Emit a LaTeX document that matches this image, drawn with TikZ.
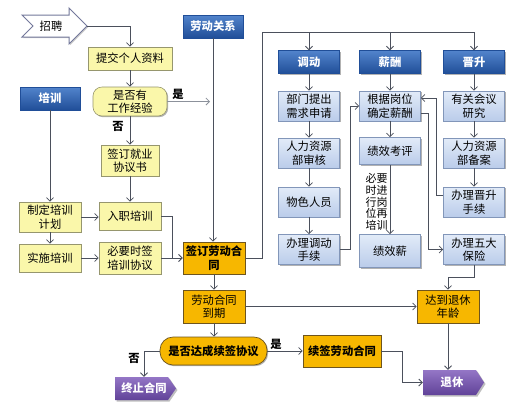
\documentclass[tikz,border=0pt]{standalone}
\usepackage{fontspec}
\setmainfont{Noto Sans CJK SC}
\usetikzlibrary{arrows.meta,shadows,backgrounds,calc}
\definecolor{yfill}{RGB}{250,247,170}
\definecolor{yline}{RGB}{150,150,110}
\definecolor{bhtop}{RGB}{82,132,204}
\definecolor{bhbot}{RGB}{32,78,152}
\definecolor{lbtop}{RGB}{226,235,248}
\definecolor{lbbot}{RGB}{186,204,234}
\definecolor{lbline}{RGB}{130,150,185}
\definecolor{ofill}{RGB}{247,183,0}
\definecolor{oline}{RGB}{110,85,30}
\definecolor{ptop}{RGB}{148,118,198}
\definecolor{pbot}{RGB}{96,66,152}
\definecolor{conc}{RGB}{75,80,92}
\definecolor{conl}{RGB}{140,145,155}
\definecolor{zpline}{RGB}{115,120,155}
\begin{document}
\begin{tikzpicture}[x=1pt,y=-1pt,
  every node/.style={font=\fontsize{11.3}{13.5}\selectfont, align=center, inner sep=1pt},
  bold/.style={font=\fontsize{11.3}{13.5}\selectfont\bfseries},
  wh/.style 2 args={minimum width=#1pt, minimum height=#2pt},
  shad/.style={drop shadow={shadow xshift=1.2pt,shadow yshift=-1.2pt,opacity=.3,fill=black}},
  ybox/.style={shad, draw=yline, fill=yfill, line width=0.6pt},
  ydec/.style={ybox, rounded corners=9pt},
  bhead/.style={shad, top color=bhtop, bottom color=bhbot, draw=bhbot, line width=0.4pt, text=white, bold},
  lbox/.style={shad, top color=lbtop, bottom color=lbbot, draw=lbline, line width=0.6pt},
  obox/.style={shad, fill=ofill, draw=oline, line width=0.7pt},
  odec/.style={obox, rounded corners=13pt, bold},
  ptext/.style={text=white, bold},
  conn/.style={draw=conc, line width=0.8pt, -{Straight Barb[length=3.5pt,width=7pt]}},
  plain/.style={draw=conc, line width=0.8pt},
  yn/.style={bold, inner sep=0pt}
]
\fill[white] (0,0) rectangle (524,408);
\useasboundingbox (0,0) rectangle (524,408);

% ---- recruitment arrow shape
\fill[black,opacity=.2] (23.2,16.2) -- (70.2,16.2) -- (70.2,9.2) -- (88.2,27.2) -- (70.2,45.2) -- (70.2,38.2) -- (23.2,38.2) -- (34.2,27.2) -- cycle;
\filldraw[fill=white, draw=zpline, line width=1pt] (22,15) -- (69,15) -- (69,8) -- (87,26) -- (69,44) -- (69,37) -- (22,37) -- (33,26) -- cycle;
\node (zp) at (51,26) {招聘};
\coordinate (zptip) at (87,26);

% ---- purple end shapes
\fill[black,opacity=.25] (116.5,378.5) -- (169.5,378.5) -- (177.5,390) -- (169.5,401.5) -- (116.5,401.5) -- cycle;
\shade[top color=ptop, bottom color=pbot] (115,377) -- (168,377) -- (176,388.5) -- (168,400) -- (115,400) -- cycle;
\fill[black,opacity=.25] (424.5,371.5) -- (477.5,371.5) -- (485.5,384) -- (477.5,396.5) -- (424.5,396.5) -- cycle;
\shade[top color=ptop, bottom color=pbot] (423,370) -- (476,370) -- (484,382.5) -- (476,395) -- (423,395) -- cycle;
\node[ptext, wh={58}{23}] (zz) at (144,388.5) {终止合同};
\node[ptext, wh={58}{25}] (tx) at (452,382.5) {退休};

% ---- left (yellow) part
\node[ybox, wh={84}{23}] (tj) at (130,58.5) {提交个人资料};
\node[ydec, wh={74}{29}] (jy) at (130,101.5) {是否有\\工作经验};
\node[ybox, wh={58}{31}] (qy) at (130,160.5) {签订就业\\协议书};
\node[ybox, wh={62}{28}] (rz) at (130,216) {入职培训};
\node[ybox, wh={62}{32}] (by) at (130,258) {必要时签\\培训协议};
\node[bhead, wh={60}{23}] (px) at (50,98.5) {培训};
\node[ybox, wh={62}{30}] (zd) at (50,217) {制定培训\\计划};
\node[ybox, wh={62}{28}] (ss) at (50,258) {实施培训};

% ---- labour relation
\node[bhead, wh={60}{23}] (ld) at (213,26.5) {劳动关系};
\node[obox, bold, wh={62}{32}] (qd) at (214,258) {签订劳动合\\同};
\node[obox, wh={62}{33}] (dq) at (214,306.5) {劳动合同\\到期};
\node[odec, wh={107}{28}] (xq) at (213.5,351) {是否达成续签协议};
\node[obox, bold, wh={78}{32}] (xqh) at (342,351) {续签劳动合同};
\node[obox, wh={62}{33}] (dt) at (448,306.5) {达到退休\\年龄};

% ---- three columns
\node[bhead, wh={61}{23}] (dd) at (309,62) {调动};
\node[bhead, wh={61}{23}] (xc) at (390,62) {薪酬};
\node[bhead, wh={61}{23}] (js) at (474,62) {晋升};
\node[lbox, wh={61}{30}] (bm) at (309,106) {部门提出\\需求申请};
\node[lbox, wh={61}{30}] (gj) at (390,106) {根据岗位\\确定薪酬};
\node[lbox, wh={61}{30}] (yg) at (474,106) {有关会议\\研究};
\node[lbox, wh={61}{30}] (rl) at (309,153) {人力资源\\部审核};
\node[lbox, wh={61}{27}] (jk) at (390,151) {绩效考评};
\node[lbox, wh={61}{30}] (rb) at (474,153) {人力资源\\部备案};
\node[lbox, wh={61}{30}] (ws) at (309,202) {物色人员};
\node[lbox, wh={61}{30}] (bj) at (474,202) {办理晋升\\手续};
\node[lbox, wh={61}{30}] (bd) at (309,249.5) {办理调动\\手续};
\node[lbox, wh={61}{33}] (jx) at (390,251) {绩效薪};
\node[lbox, wh={61}{30}] (bw) at (474,249.5) {办理五大\\保险};
\node[font=\fontsize{11}{11.8}\selectfont, inner sep=0pt] (zb) at (376.5,202) {必要\\时进\\行岗\\位再\\培训};

% ---- connectors left
\draw[conn] (zptip) -| (tj.north);
\draw[conn] (tj.south) -- (jy.north);
\coordinate (yesend) at (210,101.5);
\draw[draw=conl, line width=0.8pt, -{Straight Barb[length=3.5pt,width=7pt]}] (jy.east) -- (yesend);
\node[yn] (yes1) at (178,94) {是};
\draw[conn] (jy.south) -- (qy.north);
\node[yn] (no1) at (118,126) {否};
\draw[conn] (qy.south) -- (rz.north);
\draw[conn] (px.south) -- (zd.north);
\draw[conn] (zd.south) -- (ss.north);
\draw[conn] (zd.east) -- (zd.east -| rz.west);
\draw[conn] (ss.east) -- (ss.east -| by.west);
\draw[conn] (rz.east) -- ++(11,0) |- (qd.west);
\draw[conn] (by.east) -- (qd.west);
\draw[conn] (ld.south) -- (ld.south |- qd.north);

% ---- to the three columns
\coordinate (tl) at (262,32);
\draw[conn] (qd.east) -| (tl) -| (js.north);
\draw[conn] (tl -| dd.north) -- (dd.north);
\draw[conn] (tl -| xc.north) -- (xc.north);

\draw[conn] (dd.south) -- (bm.north);
\draw[conn] (bm.south) -- (rl.north);
\draw[conn] (rl.south) -- (ws.north);
\draw[conn] (ws.south) -- (bd.north);
\draw[conn] (xc.south) -- (gj.north);
\draw[conn] (gj.south) -- (jk.north);
\draw[conn] (jk.south) -- (jx.north);
\draw[conn] (js.south) -- (yg.north);
\draw[conn] (yg.south) -- (rb.north);
\draw[conn] (rb.south) -- (bj.north);

\draw[conn] (bd.east) -- ++(11,0) |- (gj.west);
\draw[conn] ([yshift=-7pt]gj.east) -- ++(8,0) |- (bw.west);
\draw[conn] ([yshift=7pt]bj.west) -- ++(-7,0) |- ([yshift=8pt]gj.east);
\draw[conn] (bw.south) -- ++(0,13) -| (dt.north);

% ---- bottom
\draw[conn] (qd.south) -- (dq.north);
\draw[conn] (dq.east) -- (dt.west);
\draw[conn] (dq.south) -- (dq.south |- xq.north);
\draw[conn] (xq.west) -| (zz.north);
\node[yn] (no2) at (134,358) {否};
\draw[conn] (xq.east) -- (xqh.west);
\node[yn] (yes2) at (276,344) {是};
\draw[conn] (xqh.east) -- ++(21,0) |- (tx.west);
\draw[conn] (dt.south) -- (dt.south |- tx.north);
\end{tikzpicture}
\end{document}
